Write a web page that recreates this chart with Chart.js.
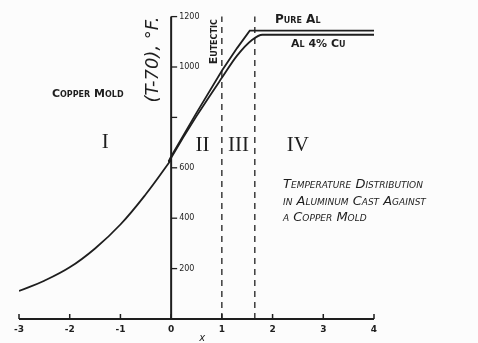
<!DOCTYPE html>
<html>
<head>
<meta charset="utf-8">
<script src="https://cdn.jsdelivr.net/npm/chart.js@4"></script>
<style>
  html, body { margin: 0; padding: 0; background: #fcfcfc; }
  #wrap { width: 478px; height: 343px; }
</style>
</head>
<body>
<div id="wrap"><canvas id="tempChart"></canvas></div>
<script>
// values
const xTicks = [-3, -2, -1, 0, 1, 2, 3, 4];
const yTicks = [200, 400, 600, 800, 1000, 1200];
const yTickLabels = ["200", "400", "600", "", "1000", "1200"];

const copperX = [-3, -2.5, -2, -1.5, -1, -0.5, 0];
const copperT = [111, 152, 205, 280, 375, 495, 632];

const pureAlX = [-0.05, 0, 0.5, 1, 1.3, 1.55, 4];
const pureAlT = [625, 645, 818, 985, 1075, 1144, 1144];

const alCuX = [-0.05, 0, 0.5, 1, 1.3, 1.6, 1.8, 4];
const alCuT = [622, 640, 805, 957, 1045, 1108, 1128, 1128];

const eutecticX = 1;
const solidusX = 1.65;
const lineTop = 1200;

const regionLabels = ["I", "II", "III", "IV"];
const regionX = [-1.3, 0.62, 1.33, 2.5];
const regionT = [700, 690, 690, 690];

const ink = "#1e1e1e";
const toPts = (xs, ys) => xs.map((x, i) => ({ x: x, y: ys[i] }));

const drawAxes = {
  id: "drawAxes",
  afterDatasetsDraw(chart) {
    const ctx = chart.ctx;
    const xs = chart.scales.x;
    const ys = chart.scales.y;
    const x0 = xs.getPixelForValue(0);
    const yb = ys.getPixelForValue(0);
    ctx.save();
    ctx.strokeStyle = ink;
    ctx.fillStyle = ink;
    ctx.lineWidth = 2;

    // x axis
    ctx.beginPath();
    ctx.moveTo(xs.getPixelForValue(-3), yb);
    ctx.lineTo(xs.getPixelForValue(4), yb);
    ctx.stroke();
    ctx.lineWidth = 1.5;
    ctx.font = "bold 9px 'DejaVu Sans'";
    ctx.textAlign = "center";
    ctx.textBaseline = "middle";
    xTicks.forEach((v) => {
      const px = xs.getPixelForValue(v);
      ctx.beginPath();
      ctx.moveTo(px, yb);
      ctx.lineTo(px, yb - 5);
      ctx.stroke();
      ctx.fillText(String(v), px, yb + 11);
    });
    ctx.font = "italic 10px 'DejaVu Sans'";
    ctx.fillText("x", x0 + 31, yb + 19);

    // y axis at x = 0
    ctx.lineWidth = 2;
    const yTop = ys.getPixelForValue(1200);
    ctx.beginPath();
    ctx.moveTo(x0, yb);
    ctx.lineTo(x0, yTop);
    ctx.stroke();
    ctx.lineWidth = 1.3;
    ctx.font = "8px 'DejaVu Sans'";
    ctx.textAlign = "left";
    yTicks.forEach((v, i) => {
      const py = ys.getPixelForValue(v);
      ctx.beginPath();
      ctx.moveTo(x0, py);
      ctx.lineTo(x0 + 6, py);
      ctx.stroke();
      if (yTickLabels[i]) ctx.fillText(yTickLabels[i], x0 + 8, py);
    });

    // axis title, rotated
    ctx.save();
    ctx.translate(x0 - 18, ys.getPixelForValue(1030));
    ctx.rotate(-Math.PI / 2);
    ctx.font = "italic 18px 'DejaVu Sans'";
    ctx.textAlign = "center";
    ctx.fillText("(T-70), °F.", 0, 0);
    ctx.restore();

    // eutectic label
    ctx.save();
    ctx.translate(xs.getPixelForValue(eutecticX) - 8, ys.getPixelForValue(1100));
    ctx.rotate(-Math.PI / 2);
    ctx.font = "small-caps bold 11px 'DejaVu Sans'";
    ctx.textAlign = "center";
    ctx.fillText("Eutectic", 0, 0);
    ctx.restore();

    // curve names
    ctx.font = "small-caps bold 12px 'DejaVu Sans'";
    ctx.textAlign = "left";
    ctx.fillText("Pure Al", 275, 20);
    ctx.font = "small-caps bold 11px 'DejaVu Sans'";
    ctx.fillText("Al 4% Cu", 291, 44);
    ctx.fillText("Copper Mold", 52, 94);

    // region numerals
    ctx.font = "21px 'Liberation Serif'";
    ctx.textAlign = "center";
    regionLabels.forEach((r, i) => {
      ctx.fillText(r, xs.getPixelForValue(regionX[i]), ys.getPixelForValue(regionT[i]));
    });

    // caption
    ctx.font = "italic small-caps 13px 'DejaVu Sans'";
    ctx.textAlign = "left";
    ctx.fillText("Temperature Distribution", 283, 185);
    ctx.fillText("in Aluminum Cast Against", 283, 202);
    ctx.fillText("a Copper Mold", 283, 218);
    ctx.restore();
  }
};

const lineStyle = {
  borderColor: ink,
  borderWidth: 1.8,
  pointRadius: 0,
  fill: false
};

new Chart(document.getElementById("tempChart"), {
  type: "line",
  data: {
    datasets: [
      { ...lineStyle, label: "Copper Mold", data: toPts(copperX, copperT), tension: 0.4 },
      { ...lineStyle, label: "Pure Al", data: toPts(pureAlX, pureAlT), tension: 0 },
      { ...lineStyle, label: "Al 4% Cu", data: toPts(alCuX, alCuT), cubicInterpolationMode: "monotone" },
      { ...lineStyle, label: "Eutectic", data: toPts([eutecticX, eutecticX], [0, lineTop]), borderWidth: 1.3, borderDash: [6, 5] },
      { ...lineStyle, label: "Solidus", data: toPts([solidusX, solidusX], [0, lineTop]), borderWidth: 1.3, borderDash: [6, 5] }
    ]
  },
  options: {
    responsive: true,
    maintainAspectRatio: false,
    animation: false,
    layout: { padding: { left: 19, right: 104, top: 4, bottom: 24 } },
    plugins: {
      legend: { display: false },
      tooltip: { enabled: false }
    },
    scales: {
      x: { type: "linear", min: -3, max: 4, display: false },
      y: { type: "linear", min: 0, max: 1250, display: false }
    }
  },
  plugins: [drawAxes]
});
</script>
</body>
</html>
